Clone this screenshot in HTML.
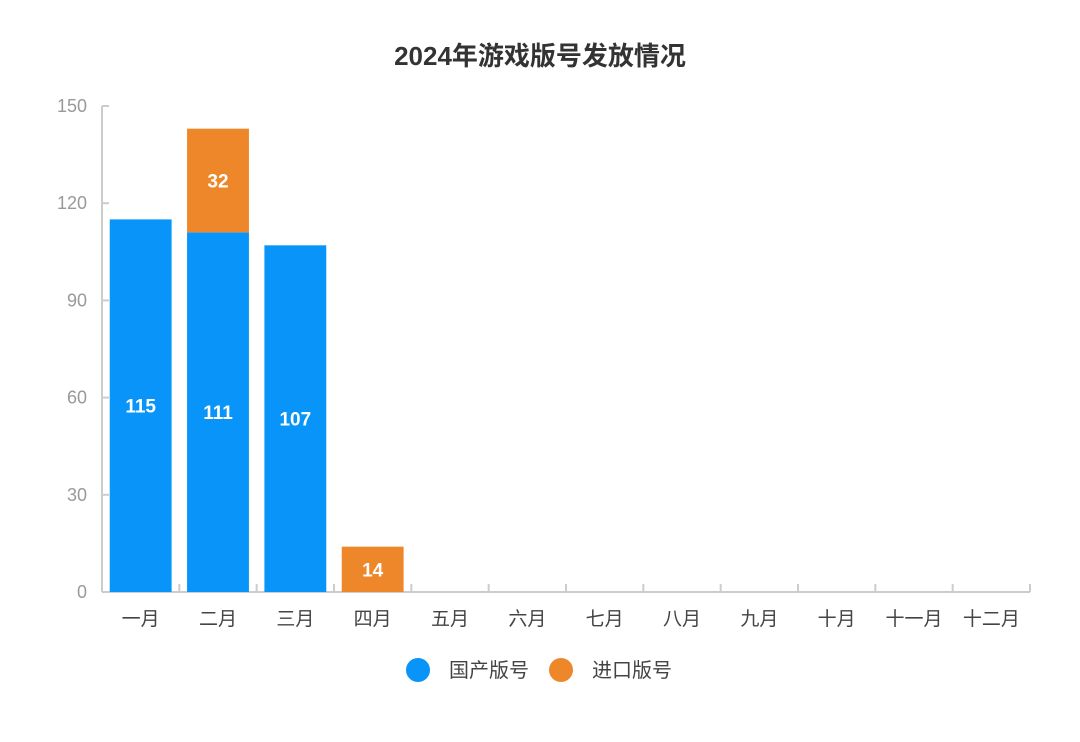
<!DOCTYPE html>
<html><head><meta charset="utf-8"><style>
html,body{margin:0;padding:0;background:#fff;}
svg{display:block;font-family:"Liberation Sans","Noto Sans CJK SC",sans-serif;}
</style></head><body>
<svg id="chart" width="1080" height="742" viewBox="0 0 1080 742">
<text x="540" y="65" text-anchor="middle" font-size="26" font-weight="bold" fill="#333">2024年游戏版号发放情况</text>
<g id="axes"></g>
<g id="bars"></g>
<g>
 <g>
  <circle cx="418" cy="670" r="12" fill="#0894F8"/>
  <text x="449" y="677" font-size="20" fill="#444">国产版号</text>
 </g>
 <g>
  <circle cx="561" cy="670" r="12" fill="#EE8729"/>
  <text x="592" y="677" font-size="20" fill="#444">进口版号</text>
 </g>
</g>
</svg>
<script>
const categories=["一月","二月","三月","四月","五月","六月","七月","八月","九月","十月","十一月","十二月"];
const domestic=[115,111,107,0,0,0,0,0,0,0,0,0];
const imported=[0,32,0,14,0,0,0,0,0,0,0,0];
const yTicks=[0,30,60,90,120,150];
const NS="http://www.w3.org/2000/svg";
const x0=102,x1=1030,y0=592,yTop=106,yMax=150;
const bw=(x1-x0)/categories.length;
const y=v=>y0-(v/yMax)*(y0-yTop);
const xc=i=>x0+bw*(i+0.5);
function mk(t,a,p){const e=document.createElementNS(NS,t);for(const k in a)e.setAttribute(k,a[k]);p.appendChild(e);return e;}
const ax=document.getElementById('axes'),bg=document.getElementById('bars');
let l=mk('line',{x1:x0,y1:yTop,x2:x0,y2:y0,stroke:'#ccc','stroke-width':2},ax);


yTicks.forEach(v=>{
 let t=mk('line',{x1:x0,y1:y(v),x2:x0+7,y2:y(v),stroke:'#ccc','stroke-width':2},ax);
 
 
 let tx=mk('text',{x:87,y:y(v)+6,'text-anchor':'end','font-size':18,fill:'#999'},ax);
 tx.textContent=v;
 
 
});
let xl=mk('line',{x1:x0,y1:y0,x2:x1,y2:y0,stroke:'#ccc','stroke-width':2},ax);


categories.forEach((c,i)=>{
 let bx=x0+bw*(i+1);
 let t=mk('line',{x1:bx,y1:y0,x2:bx,y2:y0-8,stroke:'#ccc','stroke-width':2},ax);
 
 
 let tx=mk('text',{x:xc(i),y:625,'text-anchor':'middle','font-size':19,fill:'#444'},ax);
 tx.textContent=c;
 
 
 const w=bw*0.8,bxl=xc(i)-w/2;
 const d=domestic[i],m=imported[i];
 if(d>0){
  let r=mk('rect',{x:bxl,y:y(d),width:w,height:y0-y(d),fill:'#0894F8'},bg);
  
  
  let lt=mk('text',{x:xc(i),y:(y(d)+y0)/2+7,'text-anchor':'middle','font-size':19,'font-weight':'bold',fill:'#fff'},bg);
  lt.textContent=d;
  
  
 }
 if(m>0){
  let r=mk('rect',{x:bxl,y:y(d+m),width:w,height:y(d)-y(d+m),fill:'#EE8729'},bg);
  
  
  let lt=mk('text',{x:xc(i),y:(y(d+m)+y(d))/2+7,'text-anchor':'middle','font-size':19,'font-weight':'bold',fill:'#fff'},bg);
  lt.textContent=m;
  
  
 }
});
</script>
</body></html>
